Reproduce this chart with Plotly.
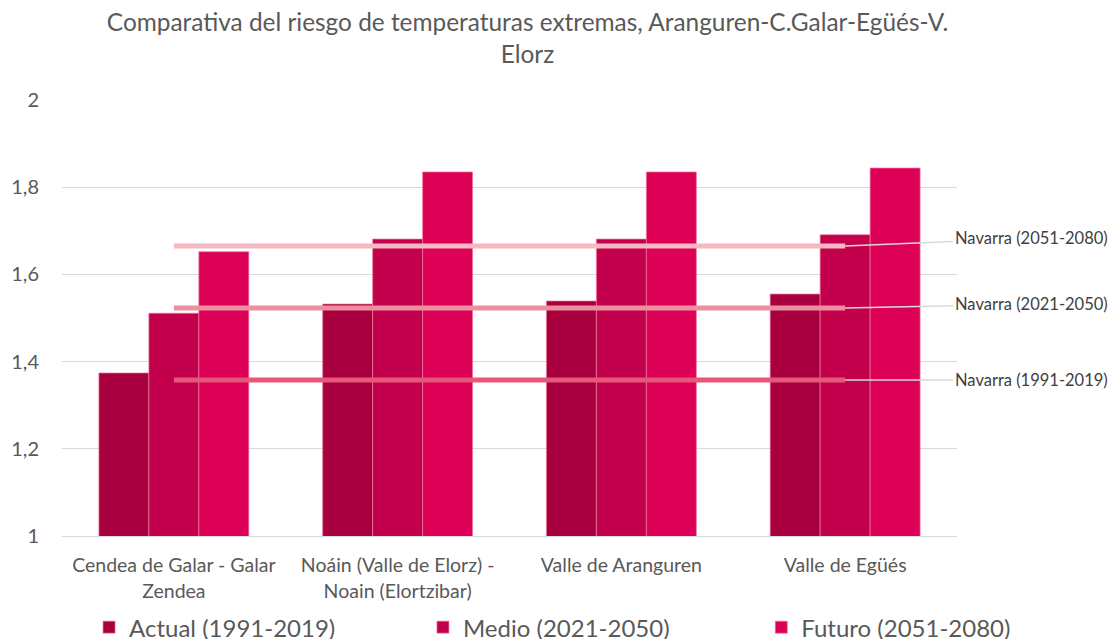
import plotly.graph_objects as go

categories = ["Cendea de Galar - Galar<br>Zendea",
              "Noáin (Valle de Elorz) -<br>Noain (Elortzibar)",
              "Valle de Aranguren",
              "Valle de Egüés"]
actual = [1.374, 1.532, 1.539, 1.555]
medio = [1.511, 1.681, 1.681, 1.691]
futuro = [1.652, 1.835, 1.835, 1.844]

series_names = ["Actual (1991-2019)", "Medio (2021-2050)", "Futuro (2051-2080)"]
series_colors = ["#A8003F", "#C3004C", "#DC0057"]

navarra_names = ["Navarra (1991-2019)", "Navarra (2021-2050)", "Navarra (2051-2080)"]
navarra_values = [1.358, 1.523, 1.665]
navarra_colors = ["#E6577A", "#EC909F", "#F4B9C3"]

y_tickvals = [1, 1.2, 1.4, 1.6, 1.8, 2]
y_ticktext = ["1", "1,2", "1,4", "1,6", "1,8", "2"]

# layout helpers (pixels / paper positions)
label_dy = [0, -4, -8]
legend_ids = ["legend", "legend2", "legend3"]
legend_x = [0.080, 0.380, 0.684]

FONT = "Lato"

fig = go.Figure()
for name, vals, col, lid in zip(series_names, [actual, medio, futuro], series_colors, legend_ids):
    fig.add_trace(go.Bar(x=categories, y=vals, name=name, marker_color=col,
                         marker_line=dict(color="#F0789A", width=0.7), legend=lid))

for name, v, col in zip(navarra_names, navarra_values, navarra_colors):
    fig.add_trace(go.Scatter(x=categories, y=[v] * len(categories), mode="lines",
                             line=dict(color=col, width=5), showlegend=False, name=name,
                             hoverinfo="skip"))

for name, v, dy in zip(navarra_names, navarra_values, label_dy):
    fig.add_annotation(x=categories[-1], y=v, xref="x", yref="y",
                       text=name, showarrow=True, arrowhead=0, arrowwidth=1.5,
                       arrowcolor="#D9D9D9", ax=186, ay=dy,
                       font=dict(family=FONT, size=16.5, color="#404040"))

legend_style = dict(orientation="h", xref="container", xanchor="left",
                    y=-0.21, yanchor="middle", bgcolor="rgba(0,0,0,0)",
                    font=dict(size=24, color="#595959", family=FONT), itemwidth=30)

fig.update_layout(
    width=1113, height=639,
    margin=dict(l=62, r=156, t=100, b=103, autoexpand=False),
    paper_bgcolor="white", plot_bgcolor="white",
    barmode="group", bargap=0.33, bargroupgap=0,
    title=dict(text="Comparativa del riesgo de temperaturas extremas, Aranguren-C.Galar-Egüés-V.<br>Elorz",
               x=0.474, xanchor="center", y=0.951, yanchor="top",
               font=dict(family=FONT, size=24.4, color="#595959")),
    font=dict(family=FONT, color="#595959"),
    yaxis=dict(range=[1, 2], tickvals=y_tickvals, ticktext=y_ticktext,
               gridcolor="#D9D9D9", gridwidth=1, zeroline=False, showline=False,
               tickfont=dict(size=20, color="#595959"), ticklabelstandoff=22),
    xaxis=dict(range=[-0.5, 3.5], showline=True, linecolor="#D9D9D9", linewidth=1,
               tickfont=dict(size=19.5, color="#595959"), ticks="",
               ticklabelstandoff=12),
    legend=dict(x=legend_x[0], **legend_style),
    legend2=dict(x=legend_x[1], **legend_style),
    legend3=dict(x=legend_x[2], **legend_style),
)
fig.write_html("out.html", post_script="document.body.style.margin='0';",
               config={"displayModeBar": False})
